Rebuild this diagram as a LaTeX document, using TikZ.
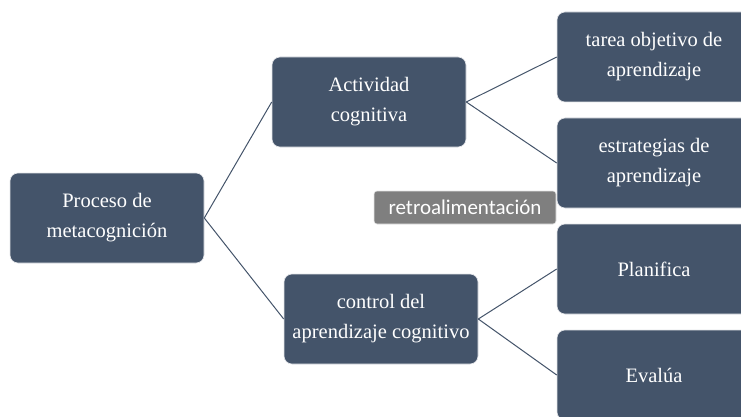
\documentclass[tikz,border=0pt]{standalone}
\usepackage{fontspec}
\setmainfont{Liberation Serif}
\newfontfamily\retrofont{Carlito}
\definecolor{boxblue}{HTML}{44546A}
\definecolor{retrogray}{HTML}{7F7F7F}
\tikzset{
  mapbox/.style={fill=boxblue, draw=white!85!boxblue, line width=0.6pt, rounded corners=8pt,
    minimum width=194pt, minimum height=90pt, text=white, align=center,
    font=\fontsize{20.5}{30}\selectfont},
  link/.style={draw=boxblue, line width=1pt},
  retrobox/.style={fill=retrogray, draw=white!80!retrogray, line width=0.6pt, rounded corners=3pt,
    minimum width=182pt, minimum height=33pt, text=white, inner sep=0pt,
    font=\retrofont\fontsize{21}{24}\selectfont}
}
\begin{document}
\begin{tikzpicture}[x=1pt,y=-1pt]
\useasboundingbox (0,0) rectangle (741,417);
\begin{scope}
\clip (0,0) rectangle (741,417);
% level 0
\node[mapbox] (proceso) at (107,218) {Proceso de\\metacognición};
% level 1
\node[mapbox] (actividad) at (369,102) {Actividad\\cognitiva};
\node[mapbox] (control) at (381,319) {control del\\aprendizaje cognitivo};
% level 2
\node[mapbox] (tarea) at (654,57) {tarea objetivo de\\aprendizaje};
\node[mapbox] (estrategias) at (654,163) {estrategias de\\aprendizaje};
\node[mapbox] (planifica) at (654,269) {Planifica};
\node[mapbox] (evalua) at (654,375) {Evalúa};
\end{scope}
\node[retrobox] (retro) at (465,207.5) {retroalimentación};
\draw[link] (proceso.east) -- (actividad.west);
\draw[link] (proceso.east) -- (control.west);
\foreach \kid in {tarea,estrategias} \draw[link] (actividad.east) -- (\kid.west);
\foreach \kid in {planifica,evalua} \draw[link] (control.east) -- (\kid.west);
\end{tikzpicture}
\end{document}
